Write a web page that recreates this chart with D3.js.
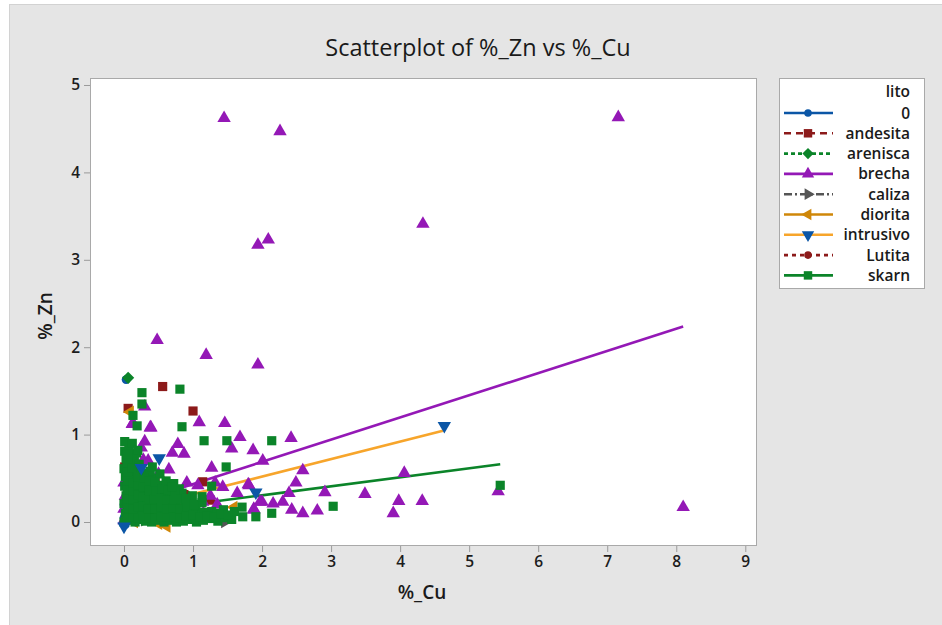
<!DOCTYPE html>
<html>
<head>
<meta charset="utf-8">
<script src="https://cdn.jsdelivr.net/npm/d3@7"></script>
<style>
  html, body { margin: 0; padding: 0; background: #ffffff; }
  svg { display: block; }
  text { font-family: "Open Sans", "Noto Sans", sans-serif; }
</style>
</head>
<body>
<svg id="chart" width="942" height="625"></svg>
<script>
// ---- data: %_Cu (x) vs %_Zn (y) by lithology ----
const groups = ["0", "andesita", "arenisca", "brecha", "caliza", "diorita", "intrusivo", "Lutita", "skarn"];
const xTicks = [0, 1, 2, 3, 4, 5, 6, 7, 8, 9];
const yTicks = [0, 1, 2, 3, 4, 5];

const pts0 = [[0.03, 1.63], [0.00, 0.20], [0.00, 0.05], [0.02, -0.03]];
const ptsAndesita = [[0.56, 1.55], [0.06, 1.30], [1.00, 1.27], [0.01, 0.63], [0.45, 0.46], [1.14, 0.46],
  [1.25, 0.25], [0.88, 0.16], [0.10, 0.55], [0.05, 0.35], [0.60, 0.10]];
const ptsArenisca = [[0.06, 1.65], [0.10, 0.30], [0.20, 0.10]];
const ptsBrecha = [[1.45, 4.62], [2.26, 4.47], [7.16, 4.63], [4.33, 3.41], [2.09, 3.23], [1.94, 3.17],
  [0.48, 2.08], [1.19, 1.91], [1.94, 1.80], [8.10, 0.17], [2.42, 0.96],
  [2.59, 0.59], [2.49, 0.45], [2.39, 0.33], [2.91, 0.34], [3.49, 0.32], [4.06, 0.56], [3.98, 0.24],
  [4.32, 0.24], [3.90, 0.10], [5.42, 0.35], [2.80, 0.13], [2.59, 0.10], [2.43, 0.14], [2.30, 0.23],
  [2.00, 0.23], [2.16, 0.21], [1.88, 0.15], [2.01, 0.70], [1.87, 0.82], [1.56, 0.84], [1.68, 0.97],
  [1.64, 0.33], [1.80, 0.43], [1.43, 0.40], [1.27, 0.62], [1.09, 1.14], [1.46, 1.13], [0.38, 1.08],
  [0.13, 1.13], [0.30, 1.32], [0.78, 0.89], [0.87, 0.78], [0.70, 0.79], [0.30, 0.92], [0.28, 0.71],
  [0.41, 0.46], [0.91, 0.45], [1.07, 0.42], [1.32, 0.45], [1.81, 0.42], [1.97, 0.23], [1.88, 0.14],
  [0.99, 0.16], [1.14, 0.23], [0.88, 0.06], [0.12, 1.12], [0.39, 1.08],
  [0.00, 0.02], [0.00, 0.15], [0.02, 0.30], [0.00, 0.45], [0.05, 0.50], [0.10, 0.05], [0.20, 0.35],
  [0.30, 0.25], [0.45, 0.10], [0.55, 0.30], [0.60, 0.15], [0.70, 0.40], [0.80, 0.30], [0.85, 0.10],
  [0.95, 0.25], [1.05, 0.05], [1.15, 0.10], [1.25, 0.30], [1.35, 0.20], [0.50, 0.55], [0.65, 0.60],
  [0.35, 0.70], [0.15, 0.60], [0.25, 0.85], [0.40, 0.40]];
const ptsCaliza = [[1.46, 0.00], [0.30, 0.02]];
const ptsDiorita = [[0.09, 1.26], [1.59, 0.17], [0.33, 0.33], [0.15, 0.00], [0.50, -0.02], [0.62, -0.05]];
const ptsIntrusivo = [[4.64, 1.10], [0.51, 0.73], [0.25, 0.62], [1.91, 0.34], [0.00, -0.05]];
const ptsLutita = [[0.90, 0.32], [0.20, 0.05]];
const ptsSkarn = [
  [0.00, 0.00], [0.02, 0.10], [0.00, 0.21], [0.03, 0.30], [0.01, 0.41], [0.02, 0.52], [0.00, 0.61], [0.03, 0.72], [0.01, 0.81],
  [0.09, 0.02], [0.08, 0.12], [0.10, 0.23], [0.07, 0.33], [0.09, 0.44], [0.11, 0.55], [0.08, 0.66], [0.10, 0.75], [0.07, 0.86],
  [0.16, 0.00], [0.17, 0.09], [0.15, 0.19], [0.18, 0.28], [0.16, 0.38], [0.14, 0.49], [0.17, 0.58], [0.15, 0.70], [0.18, 0.79],
  [0.23, 0.03], [0.24, 0.14], [0.22, 0.25], [0.25, 0.35], [0.23, 0.46], [0.26, 0.56], [0.22, 0.66],
  [0.31, 0.01], [0.30, 0.11], [0.33, 0.21], [0.31, 0.32], [0.32, 0.43], [0.34, 0.52],
  [0.40, 0.00], [0.41, 0.09], [0.39, 0.19], [0.42, 0.30], [0.40, 0.39], [0.43, 0.50], [0.38, 0.58],
  [0.49, 0.02], [0.50, 0.12], [0.48, 0.23], [0.51, 0.33], [0.49, 0.42], [0.52, 0.55],
  [0.58, 0.00], [0.59, 0.10], [0.57, 0.20], [0.60, 0.29], [0.58, 0.38], [0.61, 0.47],
  [0.66, 0.02], [0.68, 0.11], [0.65, 0.21], [0.69, 0.31], [0.72, 0.44],
  [0.76, 0.00], [0.77, 0.09], [0.75, 0.19], [0.78, 0.29], [0.80, 0.38],
  [0.86, 0.01], [0.85, 0.12], [0.88, 0.22], [0.84, 0.33],
  [0.95, 0.03], [0.97, 0.13], [0.94, 0.21], [0.99, 0.30],
  [1.05, 0.00], [1.07, 0.10], [1.04, 0.18],
  [1.15, 0.02], [1.16, 0.11], [1.13, 0.22], [1.25, 0.04], [1.27, 0.12], [1.36, 0.01], [1.35, 0.10],
  [1.46, 0.05], [1.44, 0.14], [1.56, 0.03], [1.60, 0.12], [1.72, 0.06],
  [0.05, 0.05], [0.05, 0.16], [0.05, 0.26], [0.05, 0.37], [0.05, 0.47], [0.05, 0.57], [0.05, 0.68], [0.05, 0.78],
  [0.13, 0.06], [0.13, 0.15], [0.13, 0.26], [0.13, 0.36], [0.13, 0.45], [0.12, 0.62],
  [0.20, 0.05], [0.20, 0.17], [0.21, 0.31], [0.20, 0.42], [0.20, 0.52],
  [0.27, 0.07], [0.28, 0.18], [0.27, 0.29], [0.28, 0.40], [0.29, 0.50],
  [0.36, 0.05], [0.35, 0.15], [0.36, 0.26], [0.37, 0.36], [0.36, 0.47],
  [0.45, 0.04], [0.45, 0.15], [0.44, 0.26], [0.46, 0.36], [0.45, 0.46],
  [0.54, 0.06], [0.54, 0.17], [0.53, 0.27], [0.55, 0.38],
  [0.63, 0.06], [0.62, 0.15], [0.63, 0.25], [0.64, 0.37],
  [0.72, 0.06], [0.71, 0.16], [0.73, 0.25], [0.74, 0.35],
  [0.81, 0.05], [0.81, 0.15], [0.82, 0.26],
  [0.90, 0.07], [0.91, 0.17], [0.90, 0.27],
  [1.00, 0.08], [1.01, 0.20], [1.10, 0.06], [1.20, 0.07], [1.31, 0.06], [1.40, 0.09], [1.51, 0.08],
  [0.26, 1.48], [0.26, 1.35], [0.81, 1.52], [1.16, 0.93], [1.49, 0.93], [2.14, 0.93], [0.84, 1.09],
  [1.48, 0.63], [0.19, 1.10], [0.13, 1.22], [1.27, 0.41], [1.71, 0.17], [1.91, 0.06], [2.14, 0.10],
  [3.03, 0.18], [5.45, 0.42], [0.01, 0.92], [0.12, 0.90], [0.20, 0.82], [0.41, 0.63], [1.13, 0.29],
  [0.70, 0.40]];

// fitted regression lines: [intercept, slope, xMin, xMax]
const fitBrecha = [0.18, 0.254, 0.0, 8.10];
const fitIntrusivo = [0.12, 0.200, 0.0, 4.62];
const fitSkarn = [0.10, 0.103, 0.0, 5.45];

// ---- appearance per lithology ----
const style = {
  "0":        { color: "#0b56a6", line: "#0b56a6", sym: "circle",  dash: null },
  "andesita": { color: "#8c1a1a", line: "#8c1a1a", sym: "square",  dash: "7,5" },
  "arenisca": { color: "#0b8429", line: "#0b8429", sym: "diamond", dash: "4,3" },
  "brecha":   { color: "#9418b6", line: "#9418b6", sym: "tri",     dash: null },
  "caliza":   { color: "#555555", line: "#555555", sym: "right",   dash: "8,3,2,3" },
  "diorita":  { color: "#cf8709", line: "#cf8709", sym: "left",    dash: null },
  "intrusivo":{ color: "#0b56a6", line: "#f7a52b", sym: "down",    dash: null },
  "Lutita":   { color: "#8c1a1a", line: "#8c1a1a", sym: "circle",  dash: "4,4" },
  "skarn":    { color: "#0b8429", line: "#0b8429", sym: "square",  dash: null }
};
const pointsBy = {
  "0": pts0, "andesita": ptsAndesita, "arenisca": ptsArenisca, "brecha": ptsBrecha,
  "caliza": ptsCaliza, "diorita": ptsDiorita, "intrusivo": ptsIntrusivo, "Lutita": ptsLutita, "skarn": ptsSkarn
};

function symbolPath(kind, scale) {
  const k = scale || 1;
  switch (kind) {
    case "square":  return { d: d3.symbol(d3.symbolSquare, 84 * k)(), rot: 0 };
    case "diamond": return { d: d3.symbol(d3.symbolSquare, 74 * k)(), rot: 45 };
    case "circle":  return { d: d3.symbol(d3.symbolCircle, 60 * k)(), rot: 0 };
    case "tri":     return { d: d3.symbol(d3.symbolTriangle, 78 * k)(), rot: 0 };
    case "down":    return { d: d3.symbol(d3.symbolTriangle, 78 * k)(), rot: 180 };
    case "right":   return { d: d3.symbol(d3.symbolTriangle, 70 * k)(), rot: 90 };
    case "left":    return { d: d3.symbol(d3.symbolTriangle, 70 * k)(), rot: -90 };
  }
}

const svg = d3.select("#chart");
const W = 942, H = 625;

// background panel
svg.append("rect").attr("x", 0).attr("y", 0).attr("width", W).attr("height", H).attr("fill", "#ffffff");
svg.append("rect").attr("x", 9.5).attr("y", 4.5).attr("width", W - 9).attr("height", H - 4)
  .attr("fill", "#e5e5e5").attr("stroke", "#d2d2d2");

const plot = { left: 90, top: 78, right: 756, bottom: 545 };

const x = d3.scaleLinear().domain([-0.4925, 9.155]).range([plot.left, plot.right]);
const y = d3.scaleLinear().domain([-0.263, 5.080]).range([plot.bottom, plot.top]);

svg.append("rect")
  .attr("x", plot.left + 0.5).attr("y", plot.top + 0.5)
  .attr("width", plot.right - plot.left).attr("height", plot.bottom - plot.top)
  .attr("fill", "#ffffff").attr("stroke", "#a9a9a9");

// axes
const xAxis = svg.append("g").attr("transform", `translate(0,${plot.bottom + 1})`)
  .call(d3.axisBottom(x).tickValues(xTicks).tickSize(6).tickPadding(4).tickFormat(d3.format("d")));
const yAxis = svg.append("g").attr("transform", `translate(${plot.left},0)`)
  .call(d3.axisLeft(y).tickValues(yTicks).tickSize(6).tickPadding(4).tickFormat(d3.format("d")));
[xAxis, yAxis].forEach(a => {
  a.select(".domain").remove();
  a.selectAll(".tick line").attr("stroke", "#9a9a9a");
  a.selectAll(".tick text").attr("fill", "#1c1c1c").attr("font-size", 15.5).attr("font-weight", 600)
    .style("font-family", "'Open Sans', sans-serif");
});

// clip region for marks
svg.append("clipPath").attr("id", "plotClip").append("rect")
  .attr("x", plot.left + 1).attr("y", plot.top + 1)
  .attr("width", plot.right - plot.left - 1).attr("height", plot.bottom - plot.top - 1);
const marks = svg.append("g").attr("clip-path", "url(#plotClip)");

// regression lines (beneath the points)
const fits = [["skarn", fitSkarn], ["intrusivo", fitIntrusivo], ["brecha", fitBrecha]];
fits.forEach(([g, f]) => {
  const [b0, b1, x0, x1] = f;
  marks.append("line")
    .attr("x1", x(x0)).attr("y1", y(b0 + b1 * x0))
    .attr("x2", x(x1)).attr("y2", y(b0 + b1 * x1))
    .attr("stroke", style[g].line).attr("stroke-width", 2.6);
});

// scatter points in lithology order
const drawOrder = ["0", "andesita", "arenisca", "brecha", "caliza", "diorita", "Lutita", "skarn", "intrusivo"];
drawOrder.forEach(g => {
  const st = style[g];
  const sp = symbolPath(st.sym, 1);
  marks.append("g").selectAll("path").data(pointsBy[g]).join("path")
    .attr("d", sp.d)
    .attr("transform", d => `translate(${x(d[0])},${y(d[1])}) rotate(${sp.rot})`)
    .attr("fill", st.color);
});

// titles
svg.append("text").attr("x", 478).attr("y", 56).attr("text-anchor", "middle")
  .attr("font-size", 23.5).attr("fill", "#1a1a1a").text("Scatterplot of %_Zn vs %_Cu");
svg.append("text").attr("x", 422).attr("y", 599).attr("text-anchor", "middle")
  .attr("font-size", 19).attr("font-weight", 600).attr("fill", "#1a1a1a").text("%_Cu");
svg.append("text").attr("transform", "translate(52,316) rotate(-90)").attr("text-anchor", "middle")
  .attr("font-size", 19).attr("font-weight", 600).attr("fill", "#1a1a1a").text("%_Zn");

// legend
const lg = svg.append("g");
lg.append("rect").attr("x", 779.5).attr("y", 78.5).attr("width", 145).attr("height", 210)
  .attr("fill", "#ffffff").attr("stroke", "#a9a9a9");
lg.append("text").attr("x", 910).attr("y", 97).attr("text-anchor", "end")
  .attr("font-size", 15.5).attr("font-weight", 600).attr("fill", "#1a1a1a").text("lito");
groups.forEach((g, i) => {
  const cy = 113 + i * 20.3;
  const st = style[g];
  lg.append("line").attr("x1", 784).attr("x2", 833).attr("y1", cy).attr("y2", cy)
    .attr("stroke", st.line).attr("stroke-width", 2.6)
    .attr("stroke-dasharray", st.dash);
  const sp = symbolPath(st.sym, st.sym === "circle" ? 0.75 : 0.85);
  lg.append("path").attr("d", sp.d)
    .attr("transform", `translate(808,${cy}) rotate(${sp.rot})`)
    .attr("fill", st.color);
  lg.append("text").attr("x", 910).attr("y", cy + 5.5).attr("text-anchor", "end")
    .attr("font-size", 15.5).attr("font-weight", 600).attr("fill", "#1a1a1a").text(g);
});
</script>
</body>
</html>
